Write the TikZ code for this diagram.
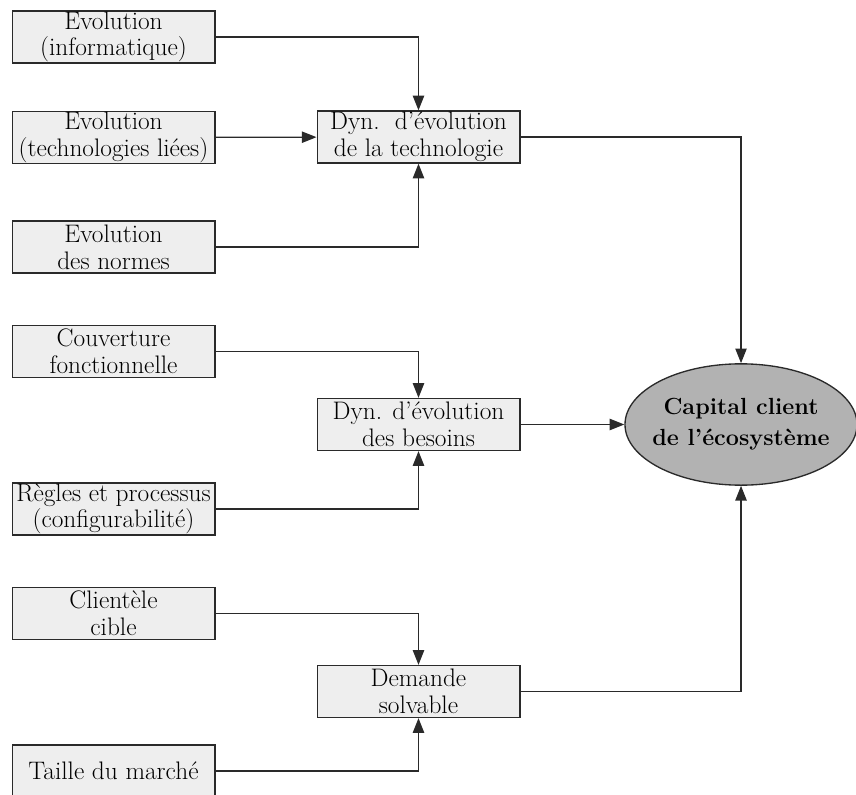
\documentclass[tikz,border=0pt]{standalone}
\usepackage{fontspec}
\usepackage{tikz}
\usetikzlibrary{arrows.meta,positioning,shapes.geometric}
\definecolor{cline}{HTML}{2A2A2A}
\definecolor{cbox}{HTML}{EEEEEE}
\definecolor{cell}{HTML}{B2B2B2}
\tikzset{
  >={Triangle[length=11pt,width=8.5pt]},
  cfactor/.style={draw=cline, fill=cbox, line width=1pt, align=center,
                  minimum width=152pt, minimum height=39pt, inner sep=0pt,
                  font=\fontsize{19}{20}\selectfont},
  cdyn/.style={cfactor},
  ccap/.style={ellipse, draw=cline, fill=cell, line width=1pt, align=center,
               minimum width=174pt, minimum height=91pt,
               inner xsep=-16pt, inner ysep=-6pt,
               font=\fontsize{17.5}{23}\selectfont\bfseries},
  cflow/.style={->, cline, line width=1pt},
}
\begin{document}
\begin{tikzpicture}[x=0.75pt,y=-0.75pt]
  \useasboundingbox (0,0) rectangle (856,795);

  % facteurs de gauche
  \node[cfactor] (evinfo) at (113.5,37)    {Evolution\\(informatique)};
  \node[cfactor] (evtech) at (113.5,137.5) {Evolution\\(technologies liées)};
  \node[cfactor] (evnorm) at (113.5,247)   {Evolution\\des normes};
  \node[cfactor] (couvf)  at (113.5,351.5) {Couverture\\fonctionnelle};
  \node[cfactor] (regles) at (113.5,509)   {Règles et processus\\(configurabilité)};
  \node[cfactor] (client) at (113.5,613.5) {Clientèle\\cible};
  \node[cfactor] (taille) at (113.5,771)   {Taille du marché};

  % dynamiques
  \node[cdyn] (dyntech) at (418.5,137)   {Dyn.\ \ d'évolution\\de la technologie};
  \node[cdyn] (dynbes)  at (418.5,424.5) {Dyn. d'évolution\\des besoins};
  \node[cdyn] (demande) at (418.5,691.5) {Demande\\solvable};

  % capital client
  \node[ccap] (capital) at (741,424.5) {Capital client\\de l'écosystème};

  % liaisons
  \draw[cflow] (evinfo.east) -| (dyntech.north);
  \draw[cflow] (evtech) -- (dyntech);
  \draw[cflow] (evnorm.east) -| (dyntech.south);
  \draw[cflow] (couvf.east)  -| (dynbes.north);
  \draw[cflow] (regles.east) -| (dynbes.south);
  \draw[cflow] (client.east) -| (demande.north);
  \draw[cflow] (taille.east) -| (demande.south);

  \draw[cflow] (dyntech.east) -| (capital.north);
  \draw[cflow] (dynbes) -- (capital);
  \draw[cflow] (demande.east) -| (capital.south);

\end{tikzpicture}
\end{document}
